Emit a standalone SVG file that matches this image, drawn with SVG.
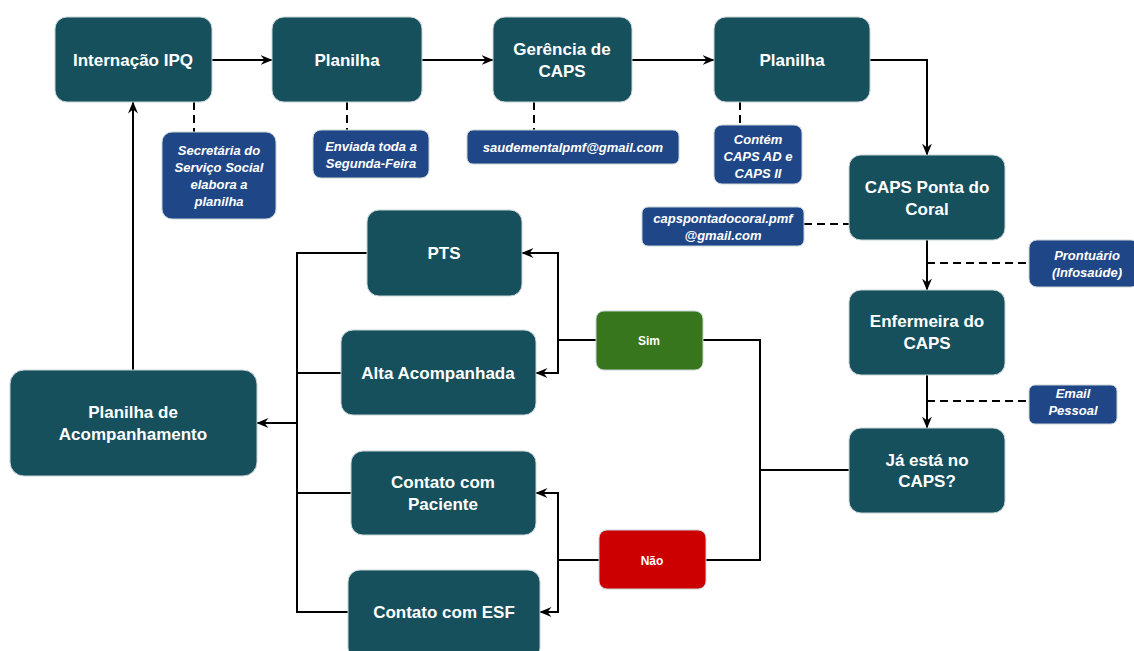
<svg xmlns="http://www.w3.org/2000/svg" width="1134" height="651" viewBox="0 0 1134 651">
<defs>
<marker id="arr" viewBox="0 0 12 10" refX="11.5" refY="5" markerWidth="12" markerHeight="10" markerUnits="userSpaceOnUse" orient="auto">
<path d="M0,0 L12,5 L0,10 L4,5 z" fill="#000"/>
</marker>
<style>
.n{fill:#16505d;stroke:#c9d3d6;stroke-width:1}
.b{fill:#1f4788;stroke:#c9d3d6;stroke-width:1}
.t{font-family:"Liberation Sans",Arial,sans-serif;font-weight:bold;font-size:17px;fill:#fff;text-anchor:middle}
.s{font-family:"Liberation Sans",Arial,sans-serif;font-weight:bold;font-style:italic;font-size:13px;fill:#fff;text-anchor:middle}
.y{font-family:"Liberation Sans",Arial,sans-serif;font-weight:bold;font-size:12px;fill:#fff;text-anchor:middle}
.c{fill:none;stroke:#000;stroke-width:2}
.a{fill:none;stroke:#000;stroke-width:2;marker-end:url(#arr)}
.d{fill:none;stroke:#000;stroke-width:2;stroke-dasharray:8 5}
</style>
</defs>
<rect width="1134" height="651" fill="#fff"/>
<g id="connectors">
<path class="a" d="M212,60 H272"/>
<path class="a" d="M422,60 H493"/>
<path class="a" d="M632,60 H714"/>
<path class="a" d="M870,60 H927 V155"/>
<path class="a" d="M927,240 V290"/>
<path class="a" d="M927,375 V428"/>
<path class="c" d="M849,470 H760"/>
<path class="c" d="M703,340 H760 V560 H706"/>
<path class="c" d="M596,340 H558"/>
<path class="a" d="M558,340 V253 H522"/>
<path class="a" d="M558,340 V373 H536"/>
<path class="c" d="M599,560 H558"/>
<path class="a" d="M558,560 V493 H536"/>
<path class="a" d="M558,560 V612 H540"/>
<path class="c" d="M367,253 H297 V612 H348"/>
<path class="c" d="M341,373 H297"/>
<path class="c" d="M351,493 H297"/>
<path class="a" d="M297,423 H257"/>
<path class="a" d="M133,370 V102"/>
<path class="d" d="M194,102 V132"/>
<path class="d" d="M347,102 V130"/>
<path class="d" d="M534,102 V130"/>
<path class="d" d="M740,102 V125"/>
<path class="d" d="M804,224 H849"/>
<path class="d" d="M927,263 H1029"/>
<path class="d" d="M927,401 H1029"/>
</g>
<g id="internacao"><rect class="n" x="55" y="17" width="157" height="85" rx="12"/><text class="t" x="133" y="66">Internação IPQ</text></g>
<g id="planilha1"><rect class="n" x="272" y="17" width="150" height="85" rx="12"/><text class="t" x="347" y="66">Planilha</text></g>
<g id="gerencia"><rect class="n" x="493" y="17" width="139" height="85" rx="12"/><text class="t" x="562" y="55">Gerência de</text><text class="t" x="562" y="77">CAPS</text></g>
<g id="planilha2"><rect class="n" x="714" y="17" width="156" height="85" rx="12"/><text class="t" x="792" y="66">Planilha</text></g>
<g id="capsponta"><rect class="n" x="849" y="155" width="156" height="85" rx="12"/><text class="t" x="927" y="193">CAPS Ponta do</text><text class="t" x="927" y="215">Coral</text></g>
<g id="enfermeira"><rect class="n" x="849" y="290" width="156" height="85" rx="12"/><text class="t" x="927" y="327">Enfermeira do</text><text class="t" x="927" y="349">CAPS</text></g>
<g id="jaesta"><rect class="n" x="849" y="428" width="156" height="85" rx="12"/><text class="t" x="927" y="466">Já está no</text><text class="t" x="927" y="487">CAPS?</text></g>
<g id="pts"><rect class="n" x="367" y="210" width="155" height="86" rx="12"/><text class="t" x="444" y="259">PTS</text></g>
<g id="alta"><rect class="n" x="341" y="330" width="195" height="85" rx="12"/><text class="t" x="438" y="379">Alta Acompanhada</text></g>
<g id="planilhaacomp"><rect class="n" x="10" y="370" width="247" height="106" rx="14"/><text class="t" x="133" y="418">Planilha de</text><text class="t" x="133" y="440">Acompanhamento</text></g>
<g id="contatopaciente"><rect class="n" x="351" y="451" width="185" height="84" rx="12"/><text class="t" x="443" y="488">Contato com</text><text class="t" x="443" y="510">Paciente</text></g>
<g id="contatoesf"><rect class="n" x="348" y="570" width="192" height="90" rx="12"/><text class="t" x="444" y="618">Contato com ESF</text></g>
<g id="sim"><rect x="596" y="311" width="107" height="59" rx="8" fill="#38761d" stroke="#c9d3d6"/><text class="y" x="649" y="345">Sim</text></g>
<g id="nao"><rect x="599" y="530" width="107" height="59" rx="8" fill="#cc0000" stroke="#c9d3d6"/><text class="y" x="652" y="565">Não</text></g>
<g id="note-secretaria"><rect class="b" x="162" y="132" width="114" height="87" rx="10"/><text class="s" x="219" y="155">Secretária do</text><text class="s" x="219" y="172">Serviço Social</text><text class="s" x="219" y="189">elabora a</text><text class="s" x="219" y="206">planilha</text></g>
<g id="note-enviada"><rect class="b" x="313" y="130" width="116" height="48" rx="8"/><text class="s" x="371" y="151">Enviada toda a</text><text class="s" x="371" y="168">Segunda-Feira</text></g>
<g id="note-saude"><rect class="b" x="467" y="130" width="212" height="34" rx="6"/><text class="s" x="573" y="152">saudementalpmf@gmail.com</text></g>
<g id="note-contem"><rect class="b" x="714" y="125" width="88" height="59" rx="8"/><text class="s" x="758" y="144">Contém</text><text class="s" x="758" y="161">CAPS AD e</text><text class="s" x="758" y="178">CAPS II</text></g>
<g id="note-capsemail"><rect class="b" x="642" y="207" width="162" height="39" rx="6"/><text class="s" x="723" y="223">capspontadocoral.pmf</text><text class="s" x="723" y="240">@gmail.com</text></g>
<g id="note-prontuario"><rect class="b" x="1029" y="240" width="110" height="47" rx="8"/><text class="s" x="1087" y="260">Prontuário</text><text class="s" x="1087" y="277">(Infosaúde)</text></g>
<g id="note-email"><rect class="b" x="1029" y="385" width="88" height="39" rx="6"/><text class="s" x="1073" y="398">Email</text><text class="s" x="1073" y="415">Pessoal</text></g>
</svg>
